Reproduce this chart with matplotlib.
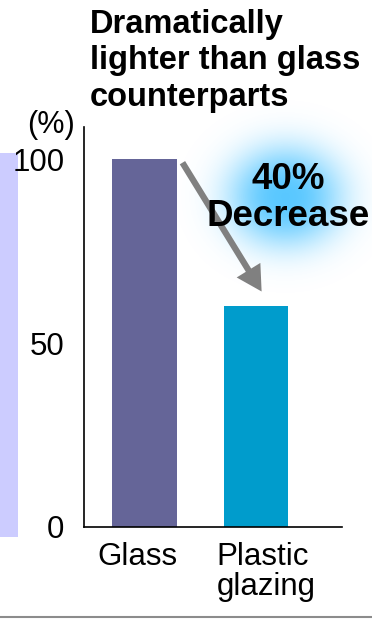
import numpy as np
import matplotlib.pyplot as plt
import matplotlib.transforms as mtransforms
from matplotlib.patches import Rectangle

plt.rcParams['font.family'] = ['Liberation Sans', 'DejaVu Sans']

# Relative weight, glass = 100
categories = ['Glass', 'Plastic\nglazing']
weights = [100, 60]
y_ticks = [0, 50, 100]
bar_colors = ['#656598', '#009ccc']

title = 'Dramatically\nlighter than glass\ncounterparts'
decrease = round((1 - weights[1] / weights[0]) * 100)

W, H = 372, 621
fig = plt.figure(figsize=(W / 100, H / 100), dpi=100)

# background layer in pixel coordinates: glow, side panel edge, footer rule
bg = fig.add_axes([0, 0, 1, 1], zorder=0)
bg.set_xlim(0, W)
bg.set_ylim(H, 0)
bg.axis('off')

xx, yy = np.meshgrid(np.arange(W), np.arange(H))
r2 = ((xx - 285) / 57.0) ** 2 + ((yy - 196) / 50.0) ** 2
glow = np.zeros((H, W, 4))
glow[..., 0] = 0.33
glow[..., 1] = 0.78
glow[..., 2] = 1.0
glow[..., 3] = 0.97 * np.exp(-r2 ** 1.3)
bg.imshow(glow, extent=(0, W, H, 0), interpolation='bilinear', aspect='auto')

bg.add_patch(Rectangle((0, 153), 18, 384, facecolor='#ccccff', edgecolor='none'))
bg.plot([0, W], [617, 617], color='#8c8c8c', lw=1.5)

# main chart
ax = fig.add_axes([84 / W, 1 - 527 / H, 258 / W, 400 / H], zorder=1)
ax.patch.set_alpha(0)
x = np.arange(len(categories))
ax.bar(x, weights, width=0.58, color=bar_colors)
ax.set_xlim(-0.543, 1.771)
ax.set_ylim(0, 108.7)
ax.set_xticks(x)
ax.set_xticklabels(categories)
ax.set_yticks(y_ticks)
ax.tick_params(axis='both', length=0, labelsize=22.5)
ax.tick_params(axis='y', pad=14)
ax.tick_params(axis='x', pad=11)
for s in ['top', 'right']:
    ax.spines[s].set_visible(False)
for s in ['left', 'bottom']:
    ax.spines[s].set_linewidth(1.2)

# nudge category labels sideways
for lbl, dx in zip(ax.get_xticklabels(), [-7, 10]):
    lbl.set_linespacing(1.0)
    lbl.set_multialignment('left')
    lbl.set_transform(lbl.get_transform() +
                      mtransforms.ScaledTranslation(dx / 100, 0, fig.dpi_scale_trans))

ax.annotate('', xy=(1.05, weights[1] + 4), xytext=(0.34, weights[0] - 1),
            arrowprops=dict(facecolor='#808080', edgecolor='none', width=4.5,
                            headwidth=20, headlength=18, shrink=0))
ax.text(0.79, 0.8225, f'{decrease}%\nDecrease', transform=ax.transAxes,
        ha='center', va='center', fontsize=26.5, fontweight='bold', linespacing=1.1)

fig.text(90 / W, 1 - 9 / H, title, ha='left', va='top', fontsize=23.5,
         fontweight='bold', linespacing=1.22)
fig.text(75 / W, 1 - 125 / H, '(%)', ha='right', va='center', fontsize=22)

fig.savefig('out.png', dpi=100)
